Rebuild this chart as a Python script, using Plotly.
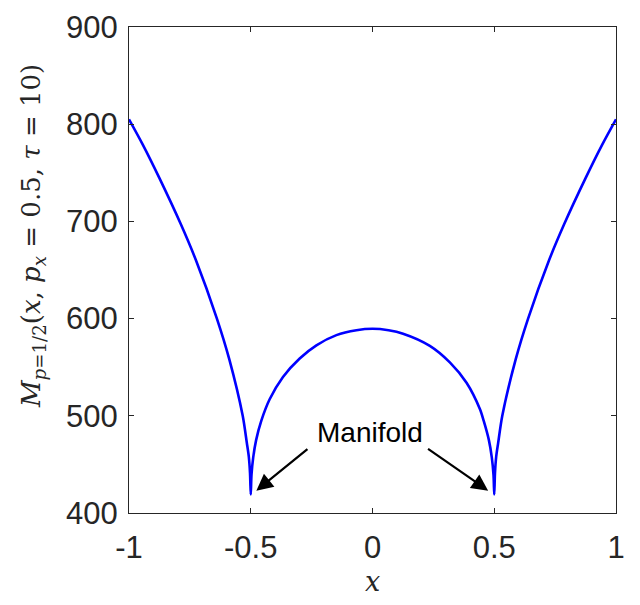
import plotly.graph_objects as go

# Values (left half, then right half)
x_left = [-1.0, -0.9445, -0.876, -0.787, -0.725, -0.639, -0.588, -0.533, -0.516, -0.508, -0.503, -0.5,
          -0.497, -0.49, -0.478, -0.4565, -0.4224, -0.3677, -0.299, -0.2304, -0.1482, -0.066, 0.0]
m_left = [805, 779.5, 745, 697, 660, 600, 558, 500, 472, 458, 441, 419,
          439, 457, 475, 495, 517, 540, 559, 572.5, 583, 588, 589.5]
x_right = [0.066, 0.1256, 0.2354, 0.3176, 0.3862, 0.441, 0.4565, 0.478, 0.49, 0.497, 0.5,
           0.503, 0.508, 0.516, 0.533, 0.588, 0.639, 0.725, 0.787, 0.876, 0.9445, 1.0]
m_right = [588, 584.5, 572, 555, 534, 507, 495, 475, 457, 439, 419,
           441, 458, 472, 500, 558, 600, 660, 697, 745, 779.5, 805]

x_vals = x_left + x_right
m_vals = m_left + m_right

x_ticks = [-1, -0.5, 0, 0.5, 1]
x_ticktext = ["-1", "-0.5", "0", "0.5", "1"]
y_ticks = [400, 500, 600, 700, 800, 900]
y_ticktext = ["400", "500", "600", "700", "800", "900"]

label_text = "Manifold"
label_pos = (-0.012, 483)
arrow_heads = [(-0.477, 423), (0.475, 423)]
arrow_tails = [(-0.261, 467), (0.222, 467)]

AX = "#262626"

fig = go.Figure()
fig.add_trace(go.Scatter(x=x_vals, y=m_vals, mode="lines",
                         line=dict(color="#0000FF", width=2.6, shape="spline", smoothing=0.8),
                         showlegend=False, hoverinfo="skip"))

fig.update_layout(
    width=624, height=589,
    margin=dict(l=121, r=16, t=19, b=84, autoexpand=False),
    paper_bgcolor="white", plot_bgcolor="white",
    font=dict(family="Arial, Liberation Sans, sans-serif", color=AX, size=31),
    showlegend=False,
)

fig.update_xaxes(range=[-1, 1], tickvals=x_ticks, ticktext=x_ticktext,
                 ticks="inside", ticklen=5, tickwidth=1, tickcolor=AX,
                 showline=True, linecolor=AX, linewidth=1, mirror="ticks",
                 showgrid=False, zeroline=False, ticklabelstandoff=7, automargin=False,
                 tickfont=dict(size=31, color=AX))
fig.update_yaxes(range=[400, 900], tickvals=y_ticks, ticktext=y_ticktext,
                 ticks="inside", ticklen=5, tickwidth=1, tickcolor=AX,
                 showline=True, linecolor=AX, linewidth=1, mirror="ticks",
                 showgrid=False, zeroline=False, ticklabelstandoff=4, automargin=False,
                 tickfont=dict(size=31, color=AX))

# axis titles as annotations (math-style serif italic)
fig.add_annotation(
    text="<i>M</i><sub><i>p</i>=1/2</sub>(<i>x</i>, <i>p</i><sub><i>x</i></sub> = 0.5, <i>τ</i> = 10)",
    xref="paper", yref="paper", x=-0.197, y=0.57, textangle=-90,
    showarrow=False, font=dict(family="DejaVu Serif, Liberation Serif, serif", size=26, color=AX),
    xanchor="center", yanchor="middle")
fig.add_annotation(
    text="<i>x</i>", xref="paper", yref="paper", x=0.5, y=-0.141,
    showarrow=False, font=dict(family="DejaVu Serif, Liberation Serif, serif", size=27, color=AX),
    xanchor="center", yanchor="middle")

fig.add_annotation(text=label_text, x=label_pos[0], y=label_pos[1], xref="x", yref="y",
                   showarrow=False, font=dict(family="Arial, Liberation Sans, sans-serif", size=28, color="black"),
                   xanchor="center", yanchor="middle")
for (hx, hy), (tx, ty) in zip(arrow_heads, arrow_tails):
    fig.add_annotation(x=hx, y=hy, ax=tx, ay=ty, xref="x", yref="y", axref="x", ayref="y",
                       text="", showarrow=True, arrowhead=2, arrowsize=1.5, arrowwidth=2.2,
                       arrowcolor="black")

fig.write_html("out.html")
